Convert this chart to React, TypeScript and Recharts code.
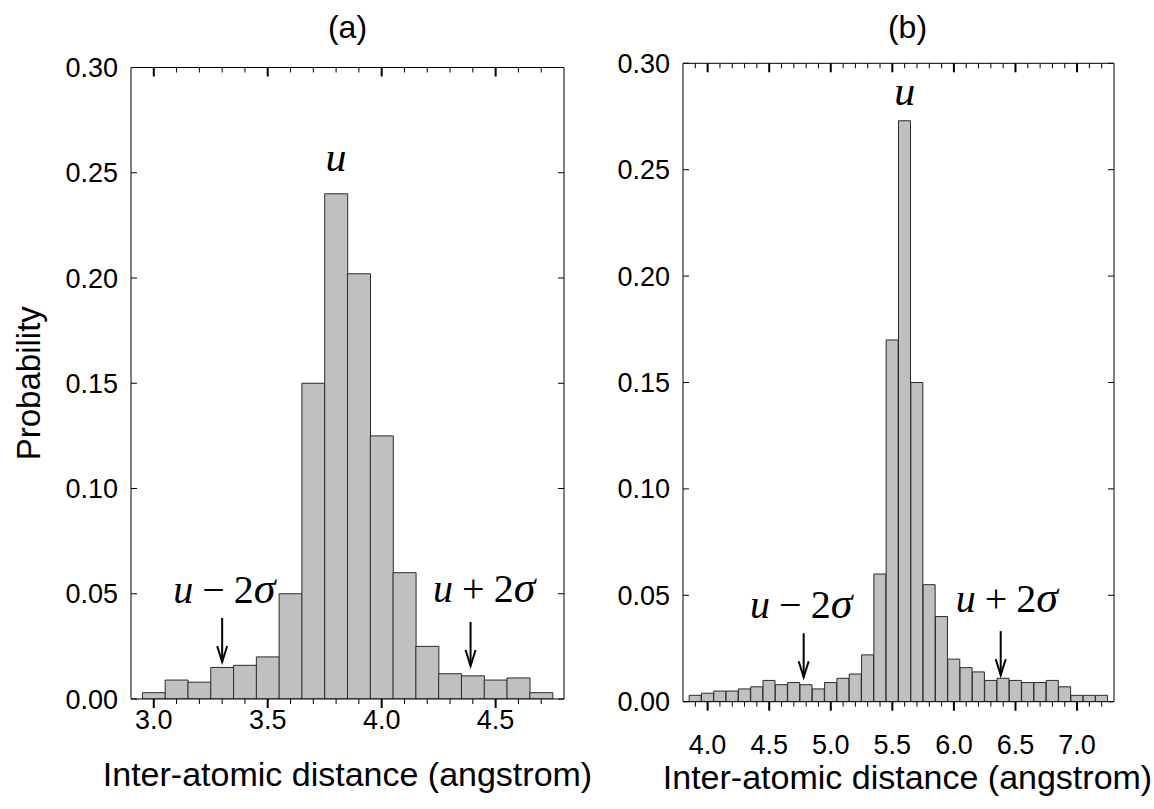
import { ComposedChart, Bar, XAxis, YAxis, ReferenceDot, Label } from "recharts";

// panel (a)
const binsA = [3.0, 3.1, 3.2, 3.3, 3.4, 3.5, 3.6, 3.7, 3.8, 3.9, 4.0, 4.1, 4.2, 4.3, 4.4, 4.5, 4.6, 4.7];
const probA = [0.003, 0.009, 0.008, 0.015, 0.016, 0.02, 0.05, 0.15, 0.24, 0.202, 0.125, 0.06, 0.025, 0.012, 0.011, 0.009, 0.01, 0.003];
const xTicksA = [3.0, 3.1, 3.2, 3.3, 3.4, 3.5, 3.6, 3.7, 3.8, 3.9, 4.0, 4.1, 4.2, 4.3, 4.4, 4.5, 4.6, 4.7];
const xMajorA = [3.0, 3.5, 4.0, 4.5];

// panel (b)
const binsB = [3.9, 4.0, 4.1, 4.2, 4.3, 4.4, 4.5, 4.6, 4.7, 4.8, 4.9, 5.0, 5.1, 5.2, 5.3, 5.4, 5.5, 5.6, 5.7, 5.8, 5.9, 6.0, 6.1, 6.2, 6.3, 6.4, 6.5, 6.6, 6.7, 6.8, 6.9, 7.0, 7.1, 7.2];
const probB = [0.003, 0.004, 0.005, 0.005, 0.006, 0.007, 0.01, 0.008, 0.009, 0.008, 0.006, 0.009, 0.011, 0.013, 0.022, 0.06, 0.17, 0.273, 0.15, 0.055, 0.04, 0.02, 0.016, 0.014, 0.01, 0.011, 0.01, 0.009, 0.009, 0.01, 0.007, 0.003, 0.003, 0.003];
const xTicksB = [3.9, 4.0, 4.1, 4.2, 4.3, 4.4, 4.5, 4.6, 4.7, 4.8, 4.9, 5.0, 5.1, 5.2, 5.3, 5.4, 5.5, 5.6, 5.7, 5.8, 5.9, 6.0, 6.1, 6.2, 6.3, 6.4, 6.5, 6.6, 6.7, 6.8, 6.9, 7.0, 7.1, 7.2];
const xMajorB = [4.0, 4.5, 5.0, 5.5, 6.0, 6.5, 7.0];

const yTicks = [0, 0.05, 0.1, 0.15, 0.2, 0.25, 0.3];

const SANS = "'Liberation Sans', Arial, sans-serif";
const SERIF = "'Liberation Serif', 'Times New Roman', serif";
const CHART_H = 809;

const isMajor = (v: number, majors: number[]) => majors.some((m) => Math.abs(m - v) < 1e-6);

// bottom tick: outward tick + label, plus the mirrored inward tick on the top frame
function BottomTick(p: any) {
  const major = isMajor(p.payload.value, p.majors);
  const len = major ? 9 : 5;
  const top = p.y - p.plotH;
  return (
    <g>
      <line x1={p.x} x2={p.x} y1={p.y} y2={p.y + len} stroke="#000" strokeWidth={major ? 2 : 1} />
      <line x1={p.x} x2={p.x} y1={top} y2={top + len} stroke="#000" strokeWidth={major ? 2 : 1} />
      {major && (
        <text x={p.x} y={p.y + p.gap} textAnchor="middle" fontSize={27} fontFamily={SANS} fill="#000">
          {p.payload.value.toFixed(1)}
        </text>
      )}
    </g>
  );
}

function LeftTick(p: any) {
  return (
    <g>
      <line x1={p.x} x2={p.x + 6} y1={p.y} y2={p.y} stroke="#000" strokeWidth={1} />
      <text x={p.x - 13} y={p.y + 9.5} textAnchor="end" fontSize={27} fontFamily={SANS} fill="#000">
        {p.payload.value.toFixed(2)}
      </text>
    </g>
  );
}

function RightTick(p: any) {
  return <line x1={p.x} x2={p.x - 6} y1={p.y} y2={p.y} stroke="#000" strokeWidth={1} />;
}

function Arrow({ cx, cy }: any) {
  return (
    <g stroke="#000" strokeWidth={2} fill="none">
      <line x1={cx} y1={cy - 44} x2={cx} y2={cy} />
      <polyline points={`${cx - 5},${cy - 16} ${cx},${cy} ${cx + 5},${cy - 16}`} />
    </g>
  );
}

function Sigma({ cx, cy, sign }: any) {
  return (
    <text x={cx} y={cy} textAnchor="middle" fontFamily={SERIF} fontSize={40} fill="#000">
      <tspan fontStyle="italic">u</tspan>
      <tspan dx={9}>{sign}</tspan>
      <tspan dx={9}>2</tspan>
      <tspan fontStyle="italic" fontSize={44}>σ</tspan>
    </text>
  );
}

function PeakLabel({ cx, cy }: any) {
  return (
    <text x={cx} y={cy} textAnchor="middle" fontFamily={SERIF} fontStyle="italic" fontSize={42} fill="#000">
      u
    </text>
  );
}

function Panel(props: any) {
  const { bins, probs, domain, ticks, majors, margin, gap, title, titleDx, yLabel, peak, minus, plus } = props;
  const data = bins.map((x: number, i: number) => ({ x, p: probs[i] }));
  // plot height: chart height minus margins and the 1px top/bottom axes
  const plotH = CHART_H - margin.top - margin.bottom - 2;
  return (
    <ComposedChart width={1154} height={CHART_H} data={data} margin={margin} barCategoryGap={0} barGap={0}>
      <XAxis
        xAxisId={0}
        dataKey="x"
        type="number"
        domain={domain}
        allowDataOverflow
        ticks={ticks}
        interval={0}
        height={1}
        tickSize={0}
        tickMargin={0}
        tickLine={false}
        axisLine={{ stroke: "#000", strokeWidth: 1 }}
        tick={(t: any) => <BottomTick {...t} majors={majors} gap={gap} plotH={plotH} />}
      >
        <Label
          content={({ viewBox }: any) => (
            <text x={viewBox.x + viewBox.width / 2 + titleDx} y={viewBox.y + props.titleGap} textAnchor="middle" fontSize={34} fontFamily={SANS} fill="#000">
              Inter-atomic distance (angstrom)
            </text>
          )}
        />
      </XAxis>
      <XAxis
        xAxisId="top"
        orientation="top"
        type="number"
        domain={domain}
        allowDataOverflow
        height={1}
        tick={false}
        tickLine={false}
        axisLine={{ stroke: "#000", strokeWidth: 1 }}
      >
        <Label
          content={({ viewBox }: any) => (
            <text x={viewBox.x + viewBox.width / 2 + titleDx} y={viewBox.y + viewBox.height - props.titleUp} textAnchor="middle" fontSize={32} fontFamily={SANS} fill="#000">
              {title}
            </text>
          )}
        />
      </XAxis>
      <YAxis
        yAxisId={0}
        domain={[0, 0.3]}
        allowDataOverflow
        ticks={yTicks}
        interval={0}
        width={1}
        tickSize={0}
        tickMargin={0}
        tickLine={false}
        axisLine={{ stroke: "#000", strokeWidth: 1 }}
        tick={(t: any) => <LeftTick {...t} />}
      >
        {yLabel && (
          <Label
            content={({ viewBox }: any) => {
              const cx = 40;
              const cy = viewBox.y + viewBox.height / 2;
              return (
                <text x={cx} y={cy} transform={`rotate(-90 ${cx} ${cy})`} textAnchor="middle" fontSize={33} fontFamily={SANS} fill="#000">
                  Probability
                </text>
              );
            }}
          />
        )}
      </YAxis>
      <YAxis
        yAxisId="r"
        orientation="right"
        domain={[0, 0.3]}
        allowDataOverflow
        ticks={yTicks}
        interval={0}
        width={1}
        tickSize={0}
        tickMargin={0}
        tickLine={false}
        axisLine={{ stroke: "#000", strokeWidth: 1 }}
        tick={(t: any) => <RightTick {...t} />}
      />
      <Bar dataKey="p" fill="#c0c0c0" stroke="#2a2a2a" strokeWidth={1} isAnimationActive={false} />
      <ReferenceDot x={peak[0]} y={peak[1]} r={0} shape={(s: any) => <PeakLabel cx={s.cx} cy={s.cy} />} />
      <ReferenceDot x={minus[0]} y={minus[1]} r={0} shape={(s: any) => <Sigma cx={s.cx} cy={s.cy} sign="−" />} />
      <ReferenceDot x={minus[2]} y={minus[3]} r={0} shape={(s: any) => <Arrow cx={s.cx} cy={s.cy} />} />
      <ReferenceDot x={plus[0]} y={plus[1]} r={0} shape={(s: any) => <Sigma cx={s.cx} cy={s.cy} sign="+" />} />
      <ReferenceDot x={plus[2]} y={plus[3]} r={0} shape={(s: any) => <Arrow cx={s.cx} cy={s.cy} />} />
    </ComposedChart>
  );
}

export default function App() {
  return (
    <div style={{ position: "absolute", left: 0, top: 0, width: 1154, height: 809, background: "#fff" }}>
      <div style={{ position: "absolute", left: 0, top: 0 }}>
        <Panel
          bins={binsA}
          probs={probA}
          domain={[2.9, 4.8]}
          ticks={xTicksA}
          majors={xMajorA}
          margin={{ left: 130, right: 589, top: 66.5, bottom: 109 }}
          gap={30}
          titleGap={87}
          title="(a)"
          titleDx={0}
          titleUp={29.5}
          yLabel
          peak={[3.8, 0.251]}
          minus={[3.31, 0.0456, 3.3, 0.0176]}
          plus={[4.45, 0.0462, 4.39, 0.0157]}
        />
      </div>
      <div style={{ position: "absolute", left: 0, top: 0 }}>
        <Panel
          bins={binsB}
          probs={probB}
          domain={[3.8, 7.3]}
          ticks={xTicksB}
          majors={xMajorB}
          margin={{ left: 682, right: 39, top: 62.3, bottom: 106.3 }}
          gap={52}
          titleGap={87}
          title="(b)"
          titleDx={9}
          titleUp={25.3}
          yLabel={false}
          peak={[5.6, 0.2804]}
          minus={[4.76, 0.0392, 4.78, 0.0115]}
          plus={[6.43, 0.0423, 6.38, 0.0125]}
        />
      </div>
    </div>
  );
}
